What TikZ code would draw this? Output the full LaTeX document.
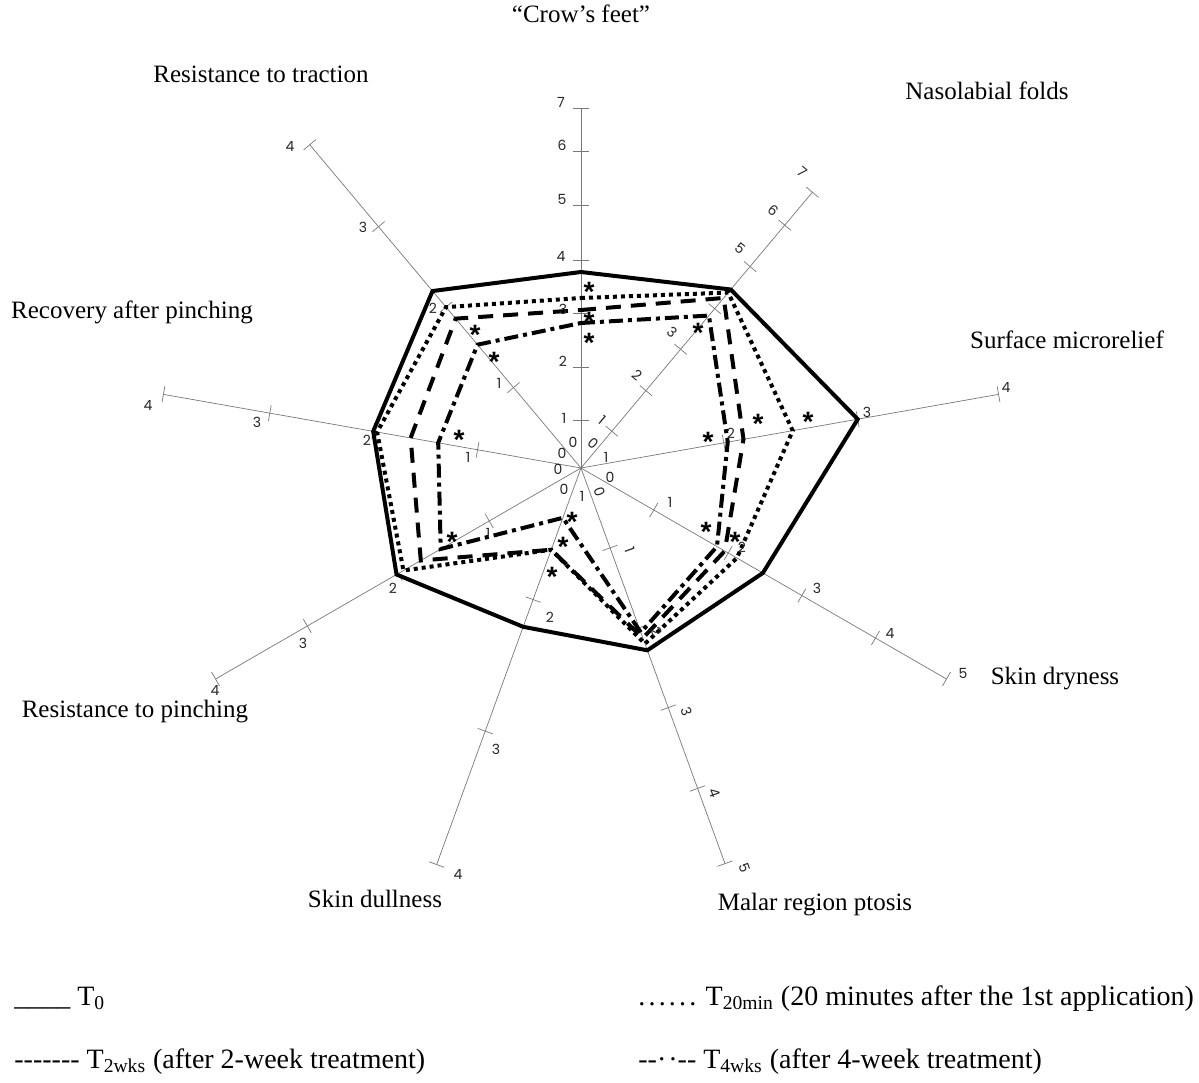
\documentclass[tikz,border=0pt]{standalone}
\usepackage{fontspec}
\setmainfont{Liberation Serif}
\newfontfamily\tickfont{Poppins}
\newfontfamily\starfont{Liberation Sans}
\usetikzlibrary{calc}
\definecolor{axisgray}{RGB}{120,120,120}
\newcommand{\sigstar}{\raisebox{-8pt}[2pt][2pt]{*}}
\newcommand{\legdots}{.\kern1.6pt.\kern1.6pt.\kern1.6pt.\kern1.6pt.\kern1.6pt.}

\begin{document}
\begin{tikzpicture}[x=0.5pt, y=0.5pt,
  axisline/.style={axisgray, line width=0.35pt},
  ticklabel/.style={font=\tickfont\fontsize{7}{8}\selectfont, text=black!85, inner sep=0pt},
  itemlabel/.style={font=\fontsize{12.5}{14}\selectfont, inner sep=0pt, text height=0.7em, text depth=0.2em},
  legendlabel/.style={font=\fontsize{14}{16}\selectfont, inner sep=0pt, anchor=west, text height=0.7em, text depth=0.2em},
  sigmark/.style={font=\starfont\bfseries\fontsize{14}{14}\selectfont, inner sep=0pt, anchor=base},
  tzero/.style={black, line width=2pt},
  ttwenty/.style={black, line width=2pt, dash pattern=on 2pt off 2pt},
  ttwo/.style={black, line width=2pt, dash pattern=on 7.5pt off 5pt},
  tfour/.style={black, line width=2pt, dash pattern=on 7pt off 2.5pt on 2pt off 2.5pt}]

 \useasboundingbox (-581,-614) rectangle (618,468);

 % Axes and their ticks (angle / length / tick radii)
 \foreach \ang/\len/\ticks in {90/360/{48,101,155,208,263,317,360},
   50/360/{48,101,155,208,263,317,360}, 10/424/{145,281,424},
   -30/422/{84,170,255,340,422}, -70/421/{85,170,255,341,421},
   -110/422/{140,280,422}, -150/422/{106,211,316,422},
   170/424/{105,211,316,424}, 130/422/{105,210,315,422}} {
  \draw[axisline] (0,0) -- (\ang:\len);
  \foreach \r in \ticks {
   \draw[axisline] ($(\ang:\r)+(\ang+90:8)$) -- ($(\ang:\r)+(\ang-90:8)$);
  }
 }

 % Series
 \draw[tzero] (90:196) -- (50:233) -- (10:281) -- (-30:210) -- (-70:194)
  -- (-110:169) -- (-150:213) -- (170:211) -- (130:231) -- cycle;
 \draw[ttwenty] (90:170) -- (50:229) -- (10:215) -- (-30:180) -- (-70:187)
  -- (-110:87) -- (-150:205) -- (170:207) -- (130:210) -- cycle;
 \draw[ttwo] (90:158) -- (50:222) -- (10:165) -- (-30:166) -- (-70:181)
  -- (-110:87) -- (-150:185) -- (170:173) -- (130:195) -- cycle;
 \draw[tfour] (90:145) -- (50:199) -- (10:149) -- (-30:157) -- (-70:175)
  -- (-110:53) -- (-150:162) -- (170:145) -- (130:161) -- cycle;

 % Everything below is placed in image coordinates
 \begin{scope}[shift={(-581,468)}, yscale=-1]
  % Tick labels
  \foreach \px/\py/\txt/\rot [count=\i] in {
    561/102/7/0, 562/145/6/0, 562/199/5/0, 561/256/4/0, 563/309/3/0,
    563/361/2/0, 564/418/1/0, 573/442/0/0,
    802/172/7/-40, 773/210/6/-40, 740/248/5/-40, 672/332/3/-40,
    637/375/2/-40, 602/420/1/-40, 593/443/0/-40,
    1006/387/4/0, 867/412/3/0, 731/433/2/0, 606/457/1/0,
    963/673/5/0, 890/633/4/0, 817/588/3/0, 742/547/2/0, 670/502/1/0, 610/477/0/0,
    745/868/5/-70, 715/793/4/-70, 687/712/3/-70, 657/632/2/-70,
    630/550/1/-70, 600/492/0/-70,
    458/874/4/0, 496/749/3/0, 550/617/2/0, 582/496/1/0,
    215/690/4/0, 303/643/3/0, 393/588/2/0, 488/533/1/0, 564/489/0/0,
    148/405/4/0, 257/422/3/0, 367/440/2/0, 468/457/1/0, 558/469/0/0,
    290/146/4/0, 363/227/3/0, 433/308/2/0, 499/383/1/0, 562/453/0/0} {
   \node[ticklabel, rotate=\rot] (tick\i) at (\px,\py) {\txt};
  }

  % Significance marks
  \foreach \px/\py [count=\i] in {589/285, 589/315, 589/336, 475/328, 494/355,
    698/327, 708/435, 758/417, 808/415, 459/433, 452/535, 572/515,
    563/540, 552/570, 706/525, 735/535} {
   \node[sigmark] (sig\i) at (\px,\py) {\sigstar};
  }

  % Item names
  \node[itemlabel] (crowsfeet) at (581,18) {“Crow’s feet”};
  \node[itemlabel] (nasolabial) at (987,95) {Nasolabial folds};
  \node[itemlabel] (traction) at (261,78) {Resistance to traction};
  \node[itemlabel] (recovery) at (132,313) {Recovery after pinching};
  \node[itemlabel] (microrelief) at (1067,343) {Surface microrelief};
  \node[itemlabel] (dryness) at (1055,679) {Skin dryness};
  \node[itemlabel] (pinching) at (135,712) {Resistance to pinching};
  \node[itemlabel] (dullness) at (375,902) {Skin dullness};
  \node[itemlabel] (ptosis) at (815,905) {Malar region ptosis};

  % Legend
  \node[legendlabel] (legzero) at (14,1000) {\_\_\_\_ T\textsubscript{0}};
  \node[legendlabel] (legtwenty) at (638,1000) {\legdots{} T\textsubscript{20min} (20 minutes after the 1st application)};
  \node[legendlabel] (legtwo) at (14,1063) {-{}-{}-{}-{}-{}-{}- T\textsubscript{2wks} (after 2-week treatment)};
  \node[legendlabel] (legfour) at (638,1063) {-{}-·\kern1pt·-{}- T\textsubscript{4wks} (after 4-week treatment)};
 \end{scope}
\end{tikzpicture}
\end{document}
